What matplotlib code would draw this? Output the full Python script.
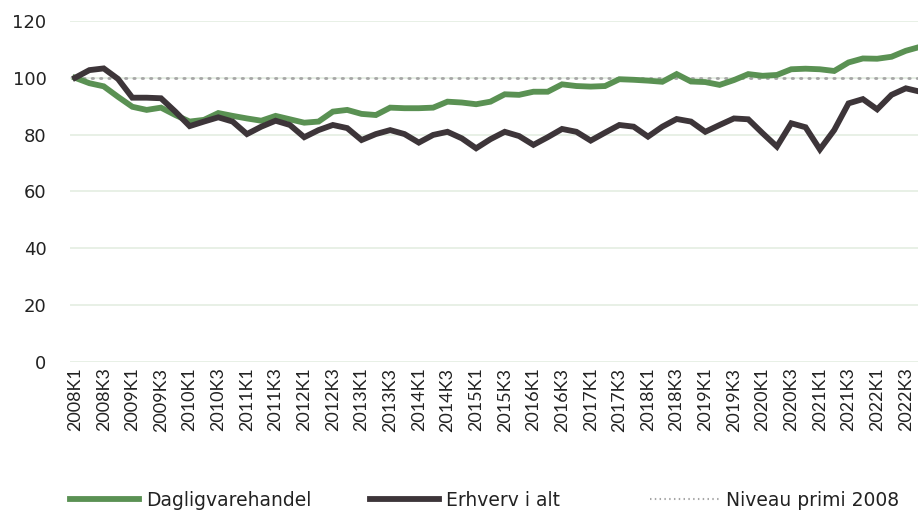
import matplotlib
matplotlib.use('Agg')
import matplotlib.pyplot as plt
from matplotlib.lines import Line2D

plt.rcParams['font.family'] = ['Lato', 'DejaVu Sans']

# quarters 2008K1 .. 2022K4
quarters = [f'{y}K{q}' for y in range(2008, 2023) for q in range(1, 5)]

dagligvare = [
    100.0, 98.1, 97.0, 93.3, 89.8, 88.7, 89.5, 86.9,
    84.6, 85.2, 87.6, 86.6, 85.7, 84.9, 86.6, 85.4,
    84.2, 84.6, 88.1, 88.7, 87.3, 86.9, 89.5, 89.3,
    89.3, 89.5, 91.6, 91.3, 90.7, 91.6, 94.2, 94.0,
    95.1, 95.1, 97.7, 97.1, 96.9, 97.1, 99.5, 99.3,
    99.0, 98.6, 101.3, 98.7, 98.5, 97.5, 99.2, 101.3,
    100.7, 101.0, 103.0, 103.2, 103.0, 102.4, 105.4, 106.8,
    106.7, 107.4, 109.5, 110.9,
]
erhverv = [
    100.0, 102.7, 103.3, 99.6, 93.0, 93.0, 92.8, 88.1,
    83.0, 84.6, 86.1, 84.6, 80.2, 82.8, 84.9, 83.4,
    79.1, 81.6, 83.4, 82.3, 78.1, 80.2, 81.6, 80.2,
    77.2, 79.9, 81.0, 78.7, 75.2, 78.4, 81.0, 79.5,
    76.4, 79.1, 82.0, 81.0, 77.9, 80.7, 83.4, 82.8,
    79.3, 82.8, 85.5, 84.6, 81.0, 83.4, 85.7, 85.4,
    80.5, 75.8, 84.0, 82.6, 74.8, 81.6, 91.0, 92.5,
    88.9, 94.0, 96.3, 95.1,
]
niveau = [100.0] * len(quarters)

labels = ['Dagligvarehandel', 'Erhverv i alt', 'Niveau primi 2008']
green = '#5a9153'
dark = '#3d3539'
grey = '#a6a6a6'

fig = plt.figure(figsize=(9.18, 5.16), dpi=100)
ax = fig.add_axes([0.0763, 0.2984, 0.9237, 0.661])

x = list(range(len(quarters)))
ax.plot(x, niveau, color=grey, lw=2, linestyle=(0, (0.5, 2.5)), dash_capstyle='round', zorder=2)
ax.plot(x, dagligvare, color=green, lw=4.2, solid_joinstyle='miter', zorder=3)
ax.plot(x, erhverv, color=dark, lw=4.2, solid_joinstyle='miter', zorder=4)

ax.set_ylim(0, 120)
ax.set_yticks(range(0, 121, 20))
ax.set_xlim(-0.35, 58.85)
ax.set_xticks(x[::2])
ax.set_xticklabels(quarters[::2], rotation=90)
ax.grid(axis='y', color='#e4eee2', lw=1.2)
ax.set_axisbelow(True)
for s in ax.spines.values():
    s.set_visible(False)
ax.tick_params(length=0, labelsize=13, colors='#222222')
ax.tick_params(axis='y', pad=17)
ax.tick_params(axis='x', pad=4)
for t in ax.get_yticklabels():
    t.set_family(['DejaVu Sans'])

handles = [
    Line2D([], [], color=green, lw=4.2),
    Line2D([], [], color=dark, lw=4.2),
    Line2D([], [], color=grey, lw=1.5, linestyle=(0, (0.7, 1.6))),
]
# equal-width legend columns, placed one by one
starts = [70, 370, 650]
for h, lab, px in zip(handles, labels, starts):
    leg = fig.legend([h], [lab], loc='center left', bbox_to_anchor=(px / 918, 0.031),
                     frameon=False, borderpad=0, borderaxespad=0,
                     prop={'family': 'DejaVu Sans', 'size': 13.5},
                     handlelength=3.7, handletextpad=0.35)
    for t in leg.get_texts():
        t.set_color('#222222')

fig.savefig('out.png', dpi=100)
